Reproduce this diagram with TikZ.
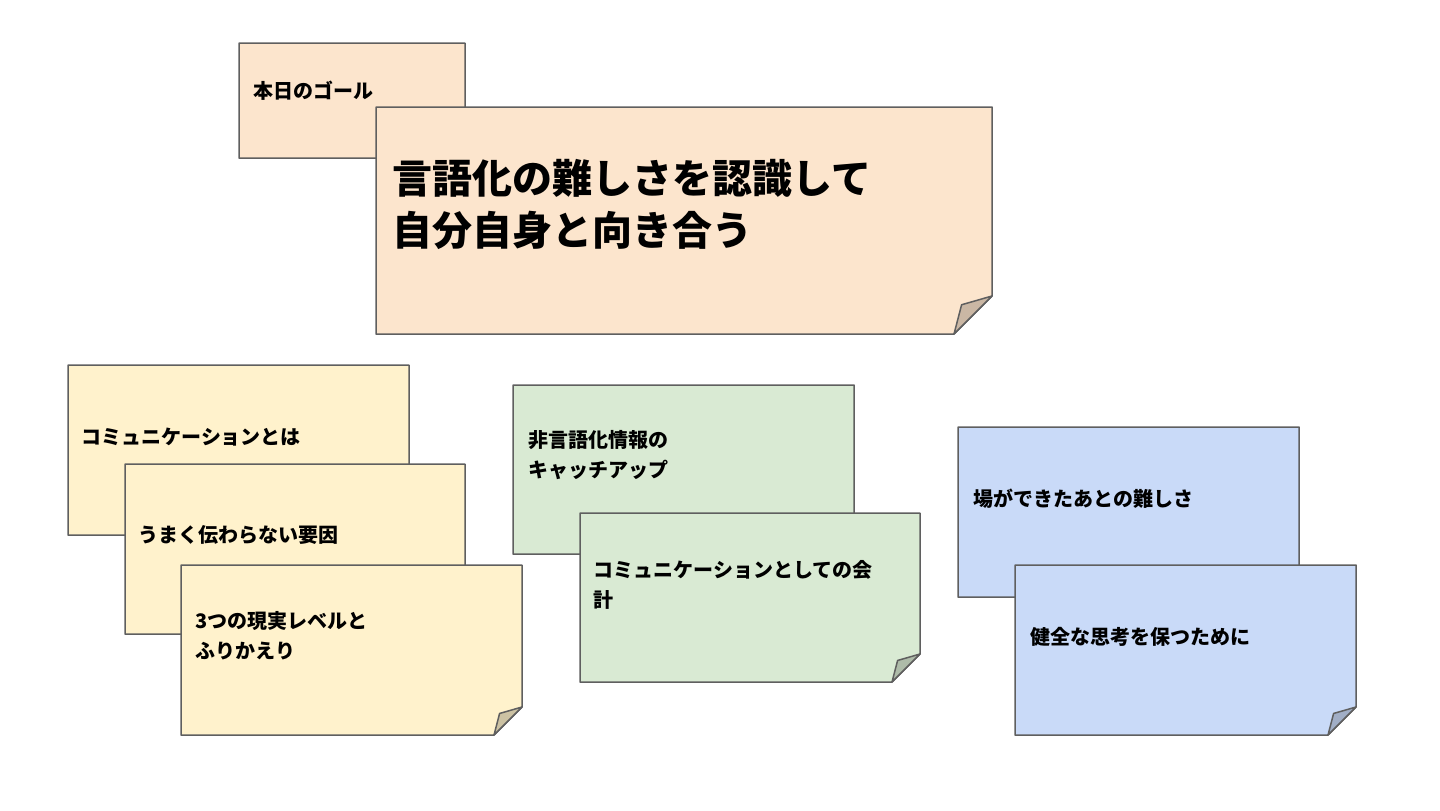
\documentclass[tikz,border=0pt]{standalone}
\usepackage{fontspec}
\setmainfont{Noto Sans CJK JP}
\usetikzlibrary{calc}
\definecolor{cGoal}{HTML}{FCE5CD}
\definecolor{cYel} {HTML}{FFF2CC}
\definecolor{cGrn} {HTML}{D9EAD3}
\definecolor{cBlu} {HTML}{C9DAF8}
\definecolor{cLine}{HTML}{5F5F5F}
\tikzset{
  notebody/.style={draw=cLine,line width=0.75pt,line join=round},
  txt/.style     ={anchor=west,align=left,inner sep=0pt,
                   font=\bfseries\fontsize{10}{15}\selectfont},
  bigtxt/.style  ={txt,font=\bfseries\fontsize{20}{26}\selectfont},
}
% sticky note: x1, y1, x2, y2 (pixels), colour, fold size
\newcommand\sticky[6]{%
  \filldraw[notebody,fill=#5] (#1,#2) -- (#3,#2) -- (#3,#4-#6)
    -- (#3-#6,#4) -- (#1,#4) -- cycle;
  \filldraw[notebody,fill=#5!80!black] (#3,#4-#6)
    -- (#3-0.8*#6,#4-0.77*#6) -- (#3-#6,#4) -- cycle;
}

\begin{document}
\begin{tikzpicture}[x=0.5pt, y=-0.5pt]
\useasboundingbox (0,0) rectangle (1440,810);

% goal
\sticky{239}{43}{465}{158}{cGoal}{28}
\node[txt] (goal) at (253,91) {本日のゴール};
\sticky{376}{107}{992}{334}{cGoal}{38}
\node[bigtxt] (title) at (392,204) {言語化の難しさを認識して\\自分自身と向き合う};

% yellow stack
\sticky{68}{365}{409}{535}{cYel}{28}
\node[txt] (comm) at (81,437) {コミュニケーションとは};
\sticky{125}{464}{465}{634}{cYel}{28}
\node[txt] (cause) at (138,535) {うまく伝わらない要因};
\sticky{181}{565}{522}{735}{cYel}{28}
\node[txt] (level) at (195,636) {3つの現実レベルと\\ふりかえり};

% green stack
\sticky{513}{385}{854}{554}{cGrn}{28}
\node[txt] (nonverb) at (528,455) {非言語化情報の\\キャッチアップ};
\sticky{580}{513}{920}{682}{cGrn}{28}
\node[txt] (acct) at (593,585) {コミュニケーションとしての会\\計};

% blue stack
\sticky{958}{427}{1299}{597}{cBlu}{28}
\node[txt] (after) at (973,499) {場ができたあとの難しさ};
\sticky{1015}{565}{1356}{735}{cBlu}{28}
\node[txt] (sound) at (1030,637) {健全な思考を保つために};
\end{tikzpicture}
\end{document}
